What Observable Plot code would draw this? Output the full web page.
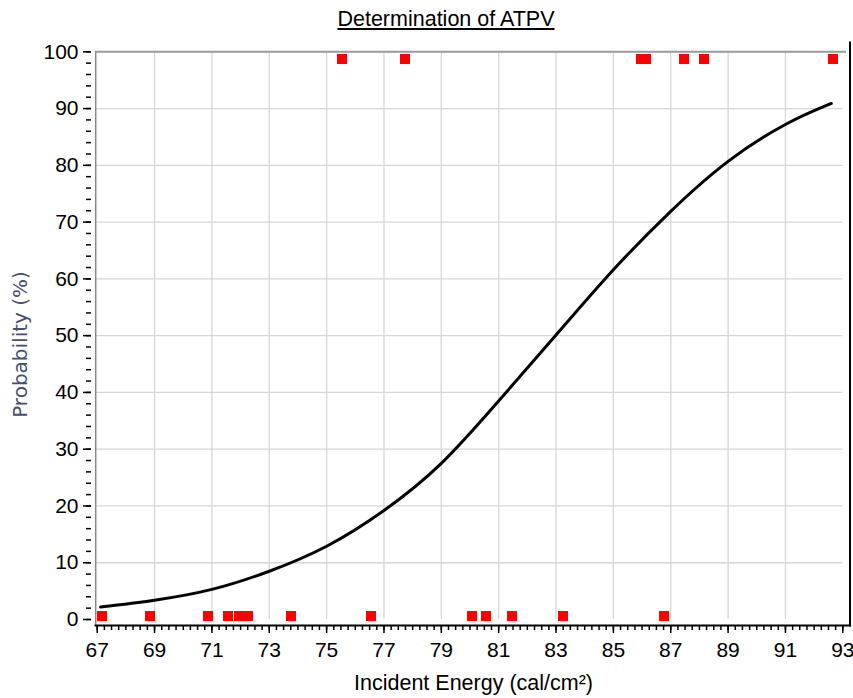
<!DOCTYPE html>
<html><head><meta charset="utf-8">
<script src="https://cdn.jsdelivr.net/npm/d3@7"></script>
<script src="https://cdn.jsdelivr.net/npm/@observablehq/plot@0.6"></script>
<style>
body{margin:0;background:#fff;}
#title{position:relative;height:30px;width:853px;}
#title span{position:absolute;left:446px;top:8.5px;transform:translateX(-50%);font-family:"Liberation Sans",Arial,sans-serif;font-size:21.5px;line-height:1;text-decoration:underline;text-decoration-thickness:2px;text-underline-offset:2px;white-space:nowrap;color:#000;}
</style></head><body>
<div id="title"><span id="t"></span></div>
<div id="chart"></div>
<script>
const titleText = "Determination of ATPV";
const xLabel = "Incident Energy (cal/cm²)";
const yLabel = "Probability (%)";

const xTicks = [67, 69, 71, 73, 75, 77, 79, 81, 83, 85, 87, 89, 91, 93];
const yTicks = [0, 10, 20, 30, 40, 50, 60, 70, 80, 90, 100];
const xGrid = [69, 71, 73, 75, 77, 79, 81, 83, 85, 87, 89, 91];
const yGrid = [10, 20, 30, 40, 50, 60, 70, 80, 90];

// Test results: breakopen (top row) and no breakopen (bottom row)
const breakEnergy = [75.52, 77.75, 85.97, 86.14, 87.47, 88.17, 92.67];
const breakProb = 98.8;
const noBreakEnergy = [67.17, 68.83, 70.86, 71.56, 71.93, 72.25, 73.75, 76.54, 80.07, 80.55, 81.45, 83.23, 86.76];
const noBreakProb = 0.7;

// Fitted probability curve
const curveEnergy = [67.12, 69, 71, 73, 75, 77, 79, 81, 83, 85, 87, 89, 91, 92.6];
const curveProb   = [2.2, 3.4, 5.3, 8.5, 12.9, 19.2, 27.5, 38.5, 50.1, 61.6, 71.9, 80.7, 87.2, 90.9];

document.getElementById("t").textContent = titleText;

const points = [
  ...breakEnergy.map(e => ({energy: e, prob: breakProb})),
  ...noBreakEnergy.map(e => ({energy: e, prob: noBreakProb}))
];
const curve = curveEnergy.map((e, i) => ({energy: e, prob: curveProb[i]}));
const xMinor = d3.range(67, 93.001, 0.25);
const yMinor = d3.range(0, 100.001, 2);

const fontTick = "Liberation Sans, Arial, sans-serif";

const chart = Plot.plot({
  width: 853,
  height: 668,
  marginLeft: 95,
  marginRight: 3.5,
  marginTop: 12,
  marginBottom: 73,
  style: {fontFamily: fontTick, fontSize: "21px", background: "#fff", color: "#000"},
  x: {domain: [67, 93], range: [96.7, 842.3]},
  y: {domain: [0, 100], range: [589, 21.3]},
  marks: [
    Plot.ruleX(xGrid, {y1: 0, y2: 100, stroke: "#d6d6d6", strokeWidth: 1.3}),
    Plot.ruleY(yGrid, {x1: 67, x2: 93, insetLeft: -1.5, stroke: "#d6d6d6", strokeWidth: 1.3}),
    Plot.ruleY([100], {stroke: "#9a9a9a", strokeWidth: 2, insetRight: 3.5}),
    Plot.ruleX([67], {y1: 100, y2: 0, insetBottom: -6, dx: -1.5, stroke: "#888", strokeWidth: 1.5}),
    Plot.frame({anchor: "bottom", stroke: "#000", strokeWidth: 2}),
    Plot.frame({anchor: "right", stroke: "#000", strokeWidth: 2}),
    Plot.axisY(yMinor, {tickSize: 5, dx: -4, tickFormat: () => "", label: null, stroke: "#000", strokeWidth: 1.5}),
    Plot.axisY(yTicks, {tickSize: 8, tickPadding: 5, dx: -4, label: null, stroke: "#000", strokeWidth: 1.5, fontSize: 21, fill: "#000"}),
    Plot.axisX(xMinor, {tickSize: 5, tickFormat: () => "", label: null, stroke: "#000", strokeWidth: 1.5}),
    Plot.axisX(xTicks, {tickSize: 8, tickPadding: 8.5, label: null, stroke: "#000", strokeWidth: 1.5, fontSize: 21, fill: "#000"}),
    Plot.text([xLabel], {text: d => d, frameAnchor: "bottom", lineAnchor: "bottom", dy: 64, dx: 0.75, fontSize: 21.5, fill: "#000"}),
    Plot.text([yLabel], {text: d => d, frameAnchor: "left", textAnchor: "middle", rotate: -90, dx: -75, dy: 10.5, fontSize: 20, fontFamily: "DejaVu Sans", fill: "#46506e"}),
    Plot.line(curve, {x: "energy", y: "prob", curve: "natural", stroke: "#000", strokeWidth: 3}),
    Plot.dot(points, {x: "energy", y: "prob", symbol: "square", r: 5.64, fill: "#ff0000", stroke: "none", shapeRendering: "crispEdges"})
  ]
});
document.getElementById("chart").appendChild(chart);
</script>
</body></html>
